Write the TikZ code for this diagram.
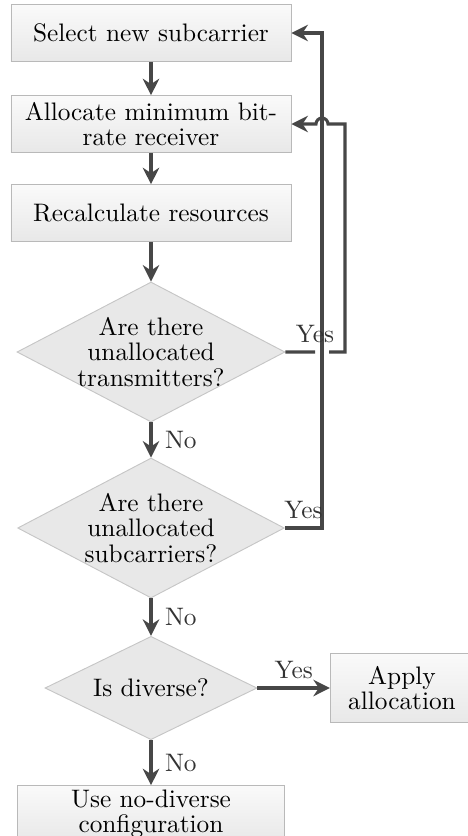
\documentclass[tikz,border=0pt]{standalone}
\usetikzlibrary{shapes.geometric,arrows.meta}
\newcommand\fsz{\fontsize{10.8}{10.8}\selectfont}
\begin{document}
\begin{tikzpicture}[x=0.015cm,y=-0.015cm,
	procbox/.style={draw=gray!55,top color=gray!4,bottom color=gray!18,minimum width=4.2cm,minimum height=0.85cm,inner sep=0pt,align=center,font=\fsz},
	decision/.style={diamond,aspect=1.9,draw=gray!45,fill=gray!18,inner sep=-3pt,align=center,font=\fsz},
	flow/.style={draw=black!72,line width=1.3pt,-{Stealth[length=7pt,width=7pt]}},
	lbl/.style={font=\fsz,text=black!80}]
	\useasboundingbox (0,0) rectangle (467,836);

	\node[procbox] (select) at (151,33) {Select new subcarrier};
	\node[procbox] (alloc) at (151,124) {Allocate minimum bit-\\rate receiver};
	\node[procbox] (recalc) at (151,213) {Recalculate resources};
	\node[decision,minimum width=4.02cm,minimum height=2.1cm] (qtx) at (151,352) {Are there\\unallocated\\transmitters?};
	\node[decision,minimum width=4cm,minimum height=2.1cm] (qsub) at (151,528) {Are there\\unallocated\\subcarriers?};
	\node[decision,minimum width=3.18cm,minimum height=1.55cm] (qdiv) at (151,688) {Is diverse?};
	\node[procbox,minimum width=2.15cm,minimum height=1.04cm] (apply) at (402,688) {Apply\\allocation};
	\node[procbox,minimum width=4cm] (nodiv) at (151,814) {Use no-diverse\\configuration};

	\draw[flow] (select) -- (alloc);
	\draw[flow] (alloc) -- (recalc);
	\draw[flow] (recalc) -- (qtx);
	\draw[flow] (qtx) -- node[lbl,right=2pt]{No} (qsub);
	\draw[flow] (qsub) -- node[lbl,right=2pt]{No} (qdiv);
	\draw[flow] (qdiv) -- node[lbl,right=2pt]{No} (nodiv);
	\draw[flow] (qdiv) -- node[lbl,above]{Yes} (apply);

	% back to the subcarrier choice
	\coordinate (subR) at (322,528);
	\coordinate (subT) at (322,33);
	\draw[flow] (qsub.east) -- node[lbl,above]{Yes} (subR) -- (subT) -- (select.east);

	% back to the receiver allocation, hopping the other line
	\draw[flow] (qtx.east) -- node[lbl,above,pos=1]{Yes} (315,352) (329,352) -- (345,352) -- (345,124) -- (328,124)
		arc[start angle=0,end angle=-180,radius=6] -- (alloc.east);
\end{tikzpicture}
\end{document}
